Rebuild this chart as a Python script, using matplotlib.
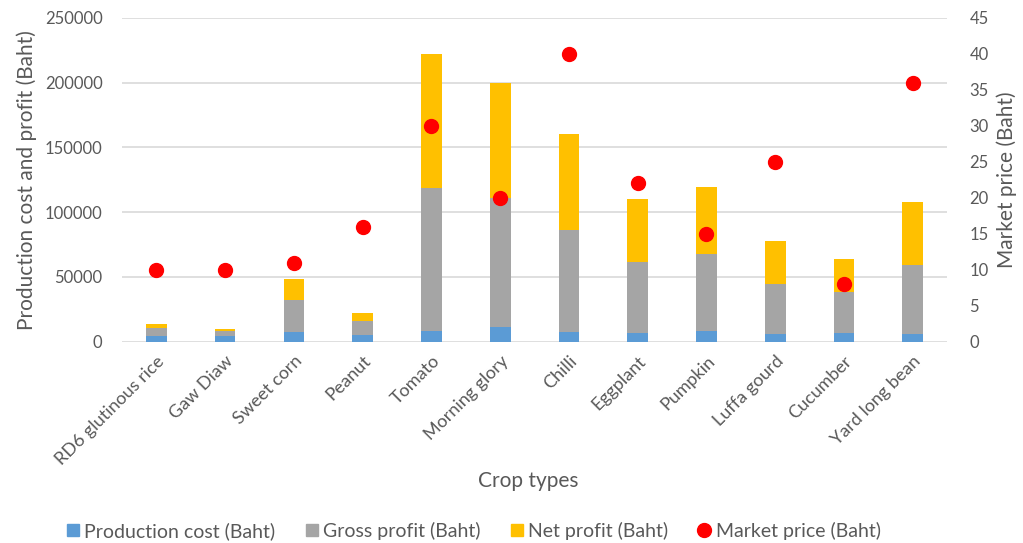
import matplotlib
matplotlib.use("Agg")
import matplotlib.pyplot as plt
from matplotlib.lines import Line2D
import numpy as np

plt.rcParams['font.family'] = ['Lato', 'DejaVu Sans']

crops = ["RD6 glutinous rice", "Gaw Diaw", "Sweet corn", "Peanut", "Tomato",
         "Morning glory", "Chilli", "Eggplant", "Pumpkin", "Luffa gourd",
         "Cucumber", "Yard long bean"]

# stacked segment values (Baht)
production_cost = [4400, 4400, 7800, 5200, 8000, 11400, 7300, 6500, 8300, 5700, 6500, 5700]
gross_profit = [5900, 3900, 24600, 10900, 110800, 99900, 79300, 54900, 59700, 38700, 31900, 53800]
net_profit = [3500, 1800, 15800, 6200, 103400, 88700, 73700, 48900, 51800, 33400, 25500, 48200]

market_price = [10, 10, 11, 16, 30, 20, 40, 22, 15, 25, 8, 36]

c_cost = "#5B9BD5"
c_gross = "#A5A5A5"
c_net = "#FFC000"
c_price = "#FF0000"
txt = "#595959"
grid = "#D9D9D9"

fig = plt.figure(figsize=(10.23, 5.43), dpi=100)
ax = fig.add_axes([0.1193, 0.3707, 0.8065, 0.5962])
ax2 = ax.twinx()

x = np.arange(len(crops))
w = 0.30
cost = np.array(production_cost)
gross = np.array(gross_profit)
net = np.array(net_profit)
ax.bar(x, cost, w, color=c_cost, zorder=2)
ax.bar(x, gross, w, bottom=cost, color=c_gross, zorder=2)
ax.bar(x, net, w, bottom=cost + gross, color=c_net, zorder=2)

ax2.plot(x, market_price, 'o', color=c_price, markersize=10, zorder=3, linestyle='none')

ax.set_xlim(-0.5, len(crops) - 0.5)
ax.set_ylim(0, 250000)
ax.set_yticks(np.arange(0, 250001, 50000))
ax2.set_ylim(0, 45)
ax2.set_yticks(np.arange(0, 46, 5))

ax.yaxis.grid(True, color=grid, linewidth=1.2, zorder=0)
ax.set_axisbelow(True)
for a in (ax, ax2):
    for s in a.spines.values():
        s.set_visible(False)
    a.tick_params(length=0, colors=txt, labelsize=12)

ax.tick_params(axis='y', pad=14)
ax2.tick_params(axis='y', pad=16)
ax.set_xticks(x)
ax.set_xticklabels(crops, rotation=45, ha='right', rotation_mode='anchor', fontsize=13, color=txt)
ax.tick_params(axis='x', pad=8)

ax.set_ylabel("Production cost and profit (Baht)", fontsize=15, color=txt, labelpad=6)
ax2.set_ylabel("Market price (Baht)", fontsize=15, color=txt, labelpad=6)
ax.set_xlabel("Crop types", fontsize=15, color=txt)
ax.xaxis.set_label_coords(0.4925, -0.40)

handles = [
    Line2D([], [], marker='s', linestyle='none', color=c_cost, markersize=8),
    Line2D([], [], marker='s', linestyle='none', color=c_gross, markersize=8),
    Line2D([], [], marker='s', linestyle='none', color=c_net, markersize=8),
    Line2D([], [], marker='o', linestyle='none', color=c_price, markersize=10),
]
labels = ["Production cost (Baht)", "Gross profit (Baht)", "Net profit (Baht)", "Market price (Baht)"]
leg = fig.legend(handles, labels, loc='center', bbox_to_anchor=(0.4624, 0.022), ncol=4,
                 frameon=False, fontsize=14, handletextpad=0.2, columnspacing=1.5,
                 handlelength=0.75)
for t in leg.get_texts():
    t.set_color(txt)

fig.savefig("out.png", dpi=100)
